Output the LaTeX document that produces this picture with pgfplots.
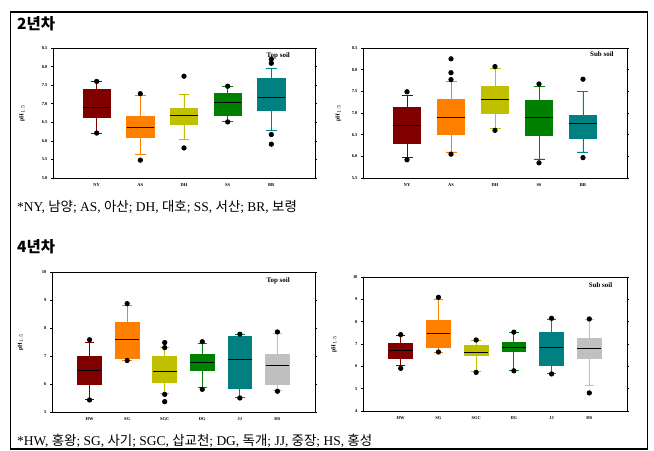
\documentclass[border=0pt]{standalone}
\usepackage{fontspec}
\setmainfont{Liberation Serif}
\newfontfamily\kr{Noto Sans CJK KR}
\usepackage{pgfplots}
\pgfplotsset{compat=1.18}
\usepgfplotslibrary{statistics}
\definecolor{cNY}{RGB}{128,0,0}
\definecolor{cAS}{RGB}{255,128,0}
\definecolor{cDH}{RGB}{192,192,0}
\definecolor{cSS}{RGB}{0,128,0}
\definecolor{cBR}{RGB}{0,128,128}
\definecolor{cHS}{RGB}{192,192,192}
\newcommand{\bx}[8]{%
\addplot[boxplot prepared={draw position=#2, lower whisker=#3, lower quartile=#4, median=#5, upper quartile=#6, upper whisker=#7},
  fill=#1, draw=#1, line width=0.8bp, mark=*, mark size=2.2bp, mark options={draw=black, fill=black}]
  table[row sep=\\, y index=0] {data\\ #8};}
\pgfplotsset{
  pan/.style={scale only axis, axis line style={line width=0.8bp},
    boxplot/draw direction=y,
    boxplot/box extend=0.63, boxplot/whisker extend=0.25,
    boxplot/every median/.style={draw=black, line width=1bp},
    tick label style={font=\fontsize{4.5}{5}\selectfont\bfseries},
    /pgf/number format/assume math mode=true,
    xtick style={draw=none}, ytick style={black, line width=0.5bp},
    tick align=outside, major tick length=2bp,
    xtick={1,...,6},
    ylabel={pH$_{1:5}$}, ylabel style={font=\fontsize{6}{6}\selectfont\bfseries, anchor=center}},
  dec/.style={yticklabel style={/pgf/number format/.cd, fixed, fixed zerofill, precision=1}},
}
\begin{document}
\begin{tikzpicture}
\useasboundingbox (0bp,0bp) rectangle (654bp,451bp);
\draw[line width=1.5bp] (10.5bp,2bp) rectangle (647.5bp,439bp);
\node[anchor=west, inner sep=0pt, font={\kr\bfseries\fontsize{15.5}{17}\selectfont}] at (17bp,427bp) {2년차};
\node[anchor=west, inner sep=0pt, font={\kr\bfseries\fontsize{15.5}{17}\selectfont}] at (17bp,204bp) {4년차};
\node[anchor=west, inner sep=0pt, font={\fontsize{13.5}{15}\selectfont}] at (17bp,244bp) {*NY, {\kr 남양}; AS, {\kr 아산}; DH, {\kr 대호}; SS, {\kr 서산}; BR, {\kr 보령}};
\node[anchor=west, inner sep=0pt, font={\fontsize{13.5}{15}\selectfont}] at (17bp,10bp) {*HW, {\kr 홍왕}; SG, {\kr 사기}; SGC, {\kr 삽교천}; DG, {\kr 독개}; JJ, {\kr 중장}; HS, {\kr 홍성}};

% Panel 1: 2nd year, top soil
\begin{axis}[pan, dec, at={(53bp,273bp)}, anchor=south west, width=262bp, height=130bp,
  xmin=0, xmax=6, ymin=5, ymax=8.5, ytick={5,5.5,...,8.5},
  xticklabels={NY,AS,DH,SS,BR},
  ylabel style={at={(axis description cs:-0.118,0.5)}}]
\bx{cNY}{1}{6.21}{6.64}{6.91}{7.38}{7.60}{7.60\\ 6.21\\}
\bx{cAS}{2}{5.63}{6.09}{6.36}{6.66}{7.23}{7.27\\ 5.48\\}
\bx{cDH}{3}{6.03}{6.43}{6.69}{6.88}{7.25}{7.74\\ 5.81\\}
\bx{cSS}{4}{6.52}{6.68}{7.04}{7.28}{7.47}{7.47\\ 6.51\\}
\bx{cBR}{5}{6.27}{6.82}{7.18}{7.69}{7.96}{8.20\\ 8.09\\ 6.17\\ 5.91\\}
\node[font={\fontsize{7}{7}\selectfont\bfseries}] at (rel axis cs:0.86,0.94) {Top soil};
\end{axis}

% Panel 2: 2nd year, sub soil
\begin{axis}[pan, dec, at={(363bp,273bp)}, anchor=south west, width=264bp, height=130bp,
  xmin=0, xmax=6, ymin=5.5, ymax=8.5, ytick={5.5,6,...,8.5},
  xticklabels={NY,AS,DH,SS,BR},
  ylabel style={at={(axis description cs:-0.094,0.5)}}]
\bx{cNY}{1}{5.98}{6.30}{6.72}{7.13}{7.40}{7.49\\ 5.92\\}
\bx{cAS}{2}{6.10}{6.50}{6.90}{7.31}{7.73}{7.77\\ 7.93\\ 8.25\\ 6.05\\}
\bx{cDH}{3}{6.65}{6.98}{7.31}{7.61}{8.03}{8.07\\ 6.60\\}
\bx{cSS}{4}{5.94}{6.49}{6.90}{7.30}{7.62}{7.67\\ 5.85\\}
\bx{cBR}{5}{6.10}{6.42}{6.76}{6.95}{7.50}{7.78\\ 5.97\\}
\node[font={\fontsize{7}{7}\selectfont\bfseries}] at (rel axis cs:0.905,0.95) {Sub soil};
\end{axis}

% Panel 3: 4th year, top soil
\begin{axis}[pan, at={(52bp,39bp)}, anchor=south west, width=263bp, height=140bp,
  xmin=0, xmax=7, ymin=5, ymax=10, ytick={5,...,10},
  xticklabels={HW,SG,SGC,DG,JJ,HS},
  ylabel style={at={(axis description cs:-0.12,0.5)}}]
\bx{cNY}{1}{5.45}{5.97}{6.50}{6.98}{7.48}{7.58\\ 5.43\\}
\bx{cAS}{2}{6.84}{6.92}{7.60}{8.21}{8.81}{8.87\\ 6.84\\}
\bx{cDH}{3}{5.67}{6.06}{6.43}{6.98}{7.31}{7.48\\ 7.30\\ 5.63\\ 5.37\\}
\bx{cSS}{4}{5.88}{6.50}{6.77}{7.05}{7.46}{7.51\\ 5.81\\}
\bx{cBR}{5}{5.52}{5.85}{6.86}{7.70}{7.78}{7.78\\ 5.50\\}
\bx{cHS}{6}{5.76}{5.97}{6.65}{7.04}{7.79}{7.86\\ 5.74\\}
\node[font={\fontsize{7}{7}\selectfont\bfseries}] at (rel axis cs:0.86,0.94) {Top soil};
\end{axis}

% Panel 4: 4th year, sub soil
\begin{axis}[pan, at={(363bp,40bp)}, anchor=south west, width=264bp, height=134bp,
  xmin=0, xmax=7, ymin=4, ymax=10, ytick={4,...,10},
  xticklabels={HW,SG,SGC,DG,JJ,HS},
  ylabel style={at={(axis description cs:-0.11,0.5)}}]
\bx{cNY}{1}{6.03}{6.37}{6.69}{7.04}{7.37}{7.42\\ 5.91\\}
\bx{cAS}{2}{6.64}{6.85}{7.46}{8.04}{9.01}{9.09\\ 6.64\\}
\bx{cDH}{3}{5.78}{6.49}{6.64}{6.93}{7.18}{7.18\\ 5.73\\}
\bx{cSS}{4}{5.82}{6.67}{6.84}{7.07}{7.52}{7.53\\ 5.80\\}
\bx{cBR}{5}{5.67}{6.04}{6.84}{7.54}{8.12}{8.15\\ 5.66\\}
\bx{cHS}{6}{5.13}{6.37}{6.79}{7.27}{8.09}{8.12\\ 4.81\\}
\node[font={\fontsize{7}{7}\selectfont\bfseries}] at (rel axis cs:0.90,0.94) {Sub soil};
\end{axis}
\end{tikzpicture}
\end{document}
